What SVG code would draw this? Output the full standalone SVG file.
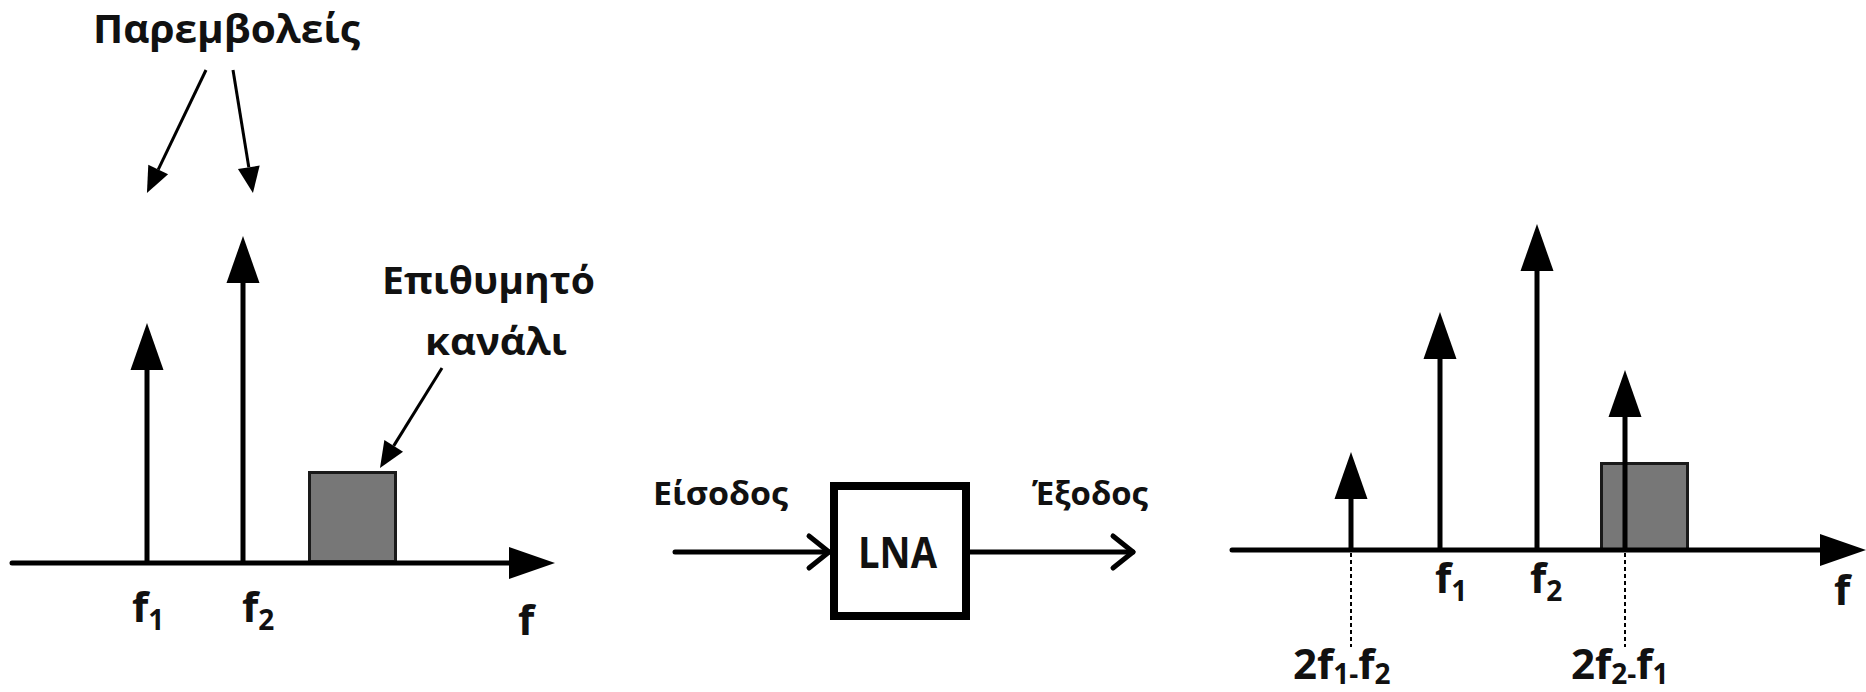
<svg xmlns="http://www.w3.org/2000/svg" width="1866" height="692" viewBox="0 0 1866 692">
<style>
  text { font-family: "Open Sans", "Noto Sans", "Liberation Sans", sans-serif; font-weight: bold; fill: #111; }
  .lbl { font-size: 37px; }
  .fl { font-size: 42px; }
  .sub { font-size: 28px; }
  .stem { stroke: #000; stroke-width: 5; fill: none; }
  .axis { stroke: #000; stroke-width: 5; fill: none; stroke-linecap: round; }
  .thin { stroke: #000; stroke-width: 3; fill: none; }
  .band { fill: #777777; stroke: #1a1a1a; stroke-width: 3; }
  .dash { stroke: #000; stroke-width: 2; stroke-dasharray: 4 3; fill: none; }
  .sig { stroke: #000; stroke-width: 5; fill: none; stroke-linecap: round; }
</style>
<defs>
  <marker id="bigHead" markerUnits="userSpaceOnUse" markerWidth="48" markerHeight="34" refX="0" refY="16.5" orient="auto" overflow="visible">
    <path d="M0,0 L47,16.5 L0,33 Z" fill="#000"/>
  </marker>
  <marker id="axisHead" markerUnits="userSpaceOnUse" markerWidth="48" markerHeight="34" refX="0" refY="16" orient="auto" overflow="visible">
    <path d="M0,0 L46,16 L0,32 Z" fill="#000"/>
  </marker>
  <marker id="smallHead" markerUnits="userSpaceOnUse" markerWidth="27" markerHeight="23" refX="0" refY="11" orient="auto" overflow="visible">
    <path d="M0,0 L26,11 L0,22 Z" fill="#000"/>
  </marker>
  <marker id="openHead" markerUnits="userSpaceOnUse" markerWidth="24" markerHeight="36" refX="20" refY="16" orient="auto" overflow="visible">
    <path d="M0,0 L20,16 L0,32" fill="none" stroke="#000" stroke-width="5" stroke-linecap="round" stroke-linejoin="round"/>
  </marker>
</defs>

<!-- Left spectrum (input) -->
<g id="left-band">
  <rect class="band" x="309.5" y="472.5" width="86" height="89"/>
</g>
<g id="left-axis">
  <line class="axis" x1="12" y1="563" x2="509" y2="563" marker-end="url(#axisHead)"/>
  <text class="fl" x="518" y="635">f</text>
</g>
<g id="left-f1">
  <line class="stem" x1="147" y1="563" x2="147" y2="370" marker-end="url(#bigHead)"/>
  <text class="fl" x="132" y="622">f<tspan class="sub" dy="8">1</tspan></text>
</g>
<g id="left-f2">
  <line class="stem" x1="243" y1="563" x2="243" y2="283" marker-end="url(#bigHead)"/>
  <text class="fl" x="242" y="622">f<tspan class="sub" dy="8">2</tspan></text>
</g>
<g id="label-interferers">
  <text class="lbl" x="93" y="43" style="font-size:39px" textLength="267" lengthAdjust="spacingAndGlyphs">Παρεμβολείς</text>
</g>
<g id="label-desired">
  <text class="lbl" x="382" y="294" textLength="213" lengthAdjust="spacingAndGlyphs">Επιθυμητό</text>
  <text class="lbl" x="425" y="355" textLength="142" lengthAdjust="spacingAndGlyphs">κανάλι</text>
</g>

<!-- LNA block -->
<g id="lna">
  <rect x="834" y="486" width="132" height="130" fill="#fff" stroke="#000" stroke-width="8"/>
  <text x="858" y="568" style="font-size:43px" textLength="79" lengthAdjust="spacingAndGlyphs">LNA</text>
</g>
<g id="label-input">
  <text class="lbl" x="653" y="505" style="font-size:33px" textLength="135" lengthAdjust="spacingAndGlyphs">Είσοδος</text>
</g>
<g id="label-output">
  <text class="lbl" x="1032" y="505" style="font-size:33px" textLength="116" lengthAdjust="spacingAndGlyphs">Έξοδος</text>
</g>

<!-- Right spectrum (output) -->
<g id="right-band">
  <rect class="band" x="1601.5" y="463.5" width="86" height="86"/>
</g>
<g id="right-axis">
  <line class="axis" x1="1232" y1="550" x2="1820" y2="550" marker-end="url(#axisHead)"/>
  <text class="fl" x="1834" y="605">f</text>
</g>
<g id="right-im3-low">
  <line class="stem" x1="1351" y1="550" x2="1351" y2="499" marker-end="url(#bigHead)"/>
  <text class="fl" x="1293" y="679">2f<tspan class="sub" dy="5">1-</tspan><tspan dy="-5">f</tspan><tspan class="sub" dy="5">2</tspan></text>
</g>
<g id="right-f1">
  <line class="stem" x1="1440" y1="550" x2="1440" y2="359" marker-end="url(#bigHead)"/>
  <text class="fl" x="1435" y="593">f<tspan class="sub" dy="8">1</tspan></text>
</g>
<g id="right-f2">
  <line class="stem" x1="1537" y1="550" x2="1537" y2="271" marker-end="url(#bigHead)"/>
  <text class="fl" x="1530" y="593">f<tspan class="sub" dy="8">2</tspan></text>
</g>
<g id="right-im3-high">
  <line class="stem" x1="1625" y1="550" x2="1625" y2="417" marker-end="url(#bigHead)"/>
  <text class="fl" x="1571" y="679">2f<tspan class="sub" dy="5">2-</tspan><tspan dy="-5">f</tspan><tspan class="sub" dy="5">1</tspan></text>
</g>

<!-- Connectors -->
<g id="connectors">
  <line class="thin" x1="206" y1="70" x2="158.2" y2="169.6" marker-end="url(#smallHead)"/>
  <line class="thin" x1="233" y1="70" x2="248.8" y2="167.3" marker-end="url(#smallHead)"/>
  <line class="thin" x1="442" y1="368" x2="393.7" y2="445.9" marker-end="url(#smallHead)"/>
  <line class="sig" x1="675" y1="552" x2="829" y2="552" marker-end="url(#openHead)"/>
  <line class="sig" x1="970" y1="552" x2="1133" y2="552" marker-end="url(#openHead)"/>
  <line class="dash" x1="1351" y1="553" x2="1351" y2="647"/>
  <line class="dash" x1="1625" y1="553" x2="1625" y2="647"/>
</g>
</svg>
